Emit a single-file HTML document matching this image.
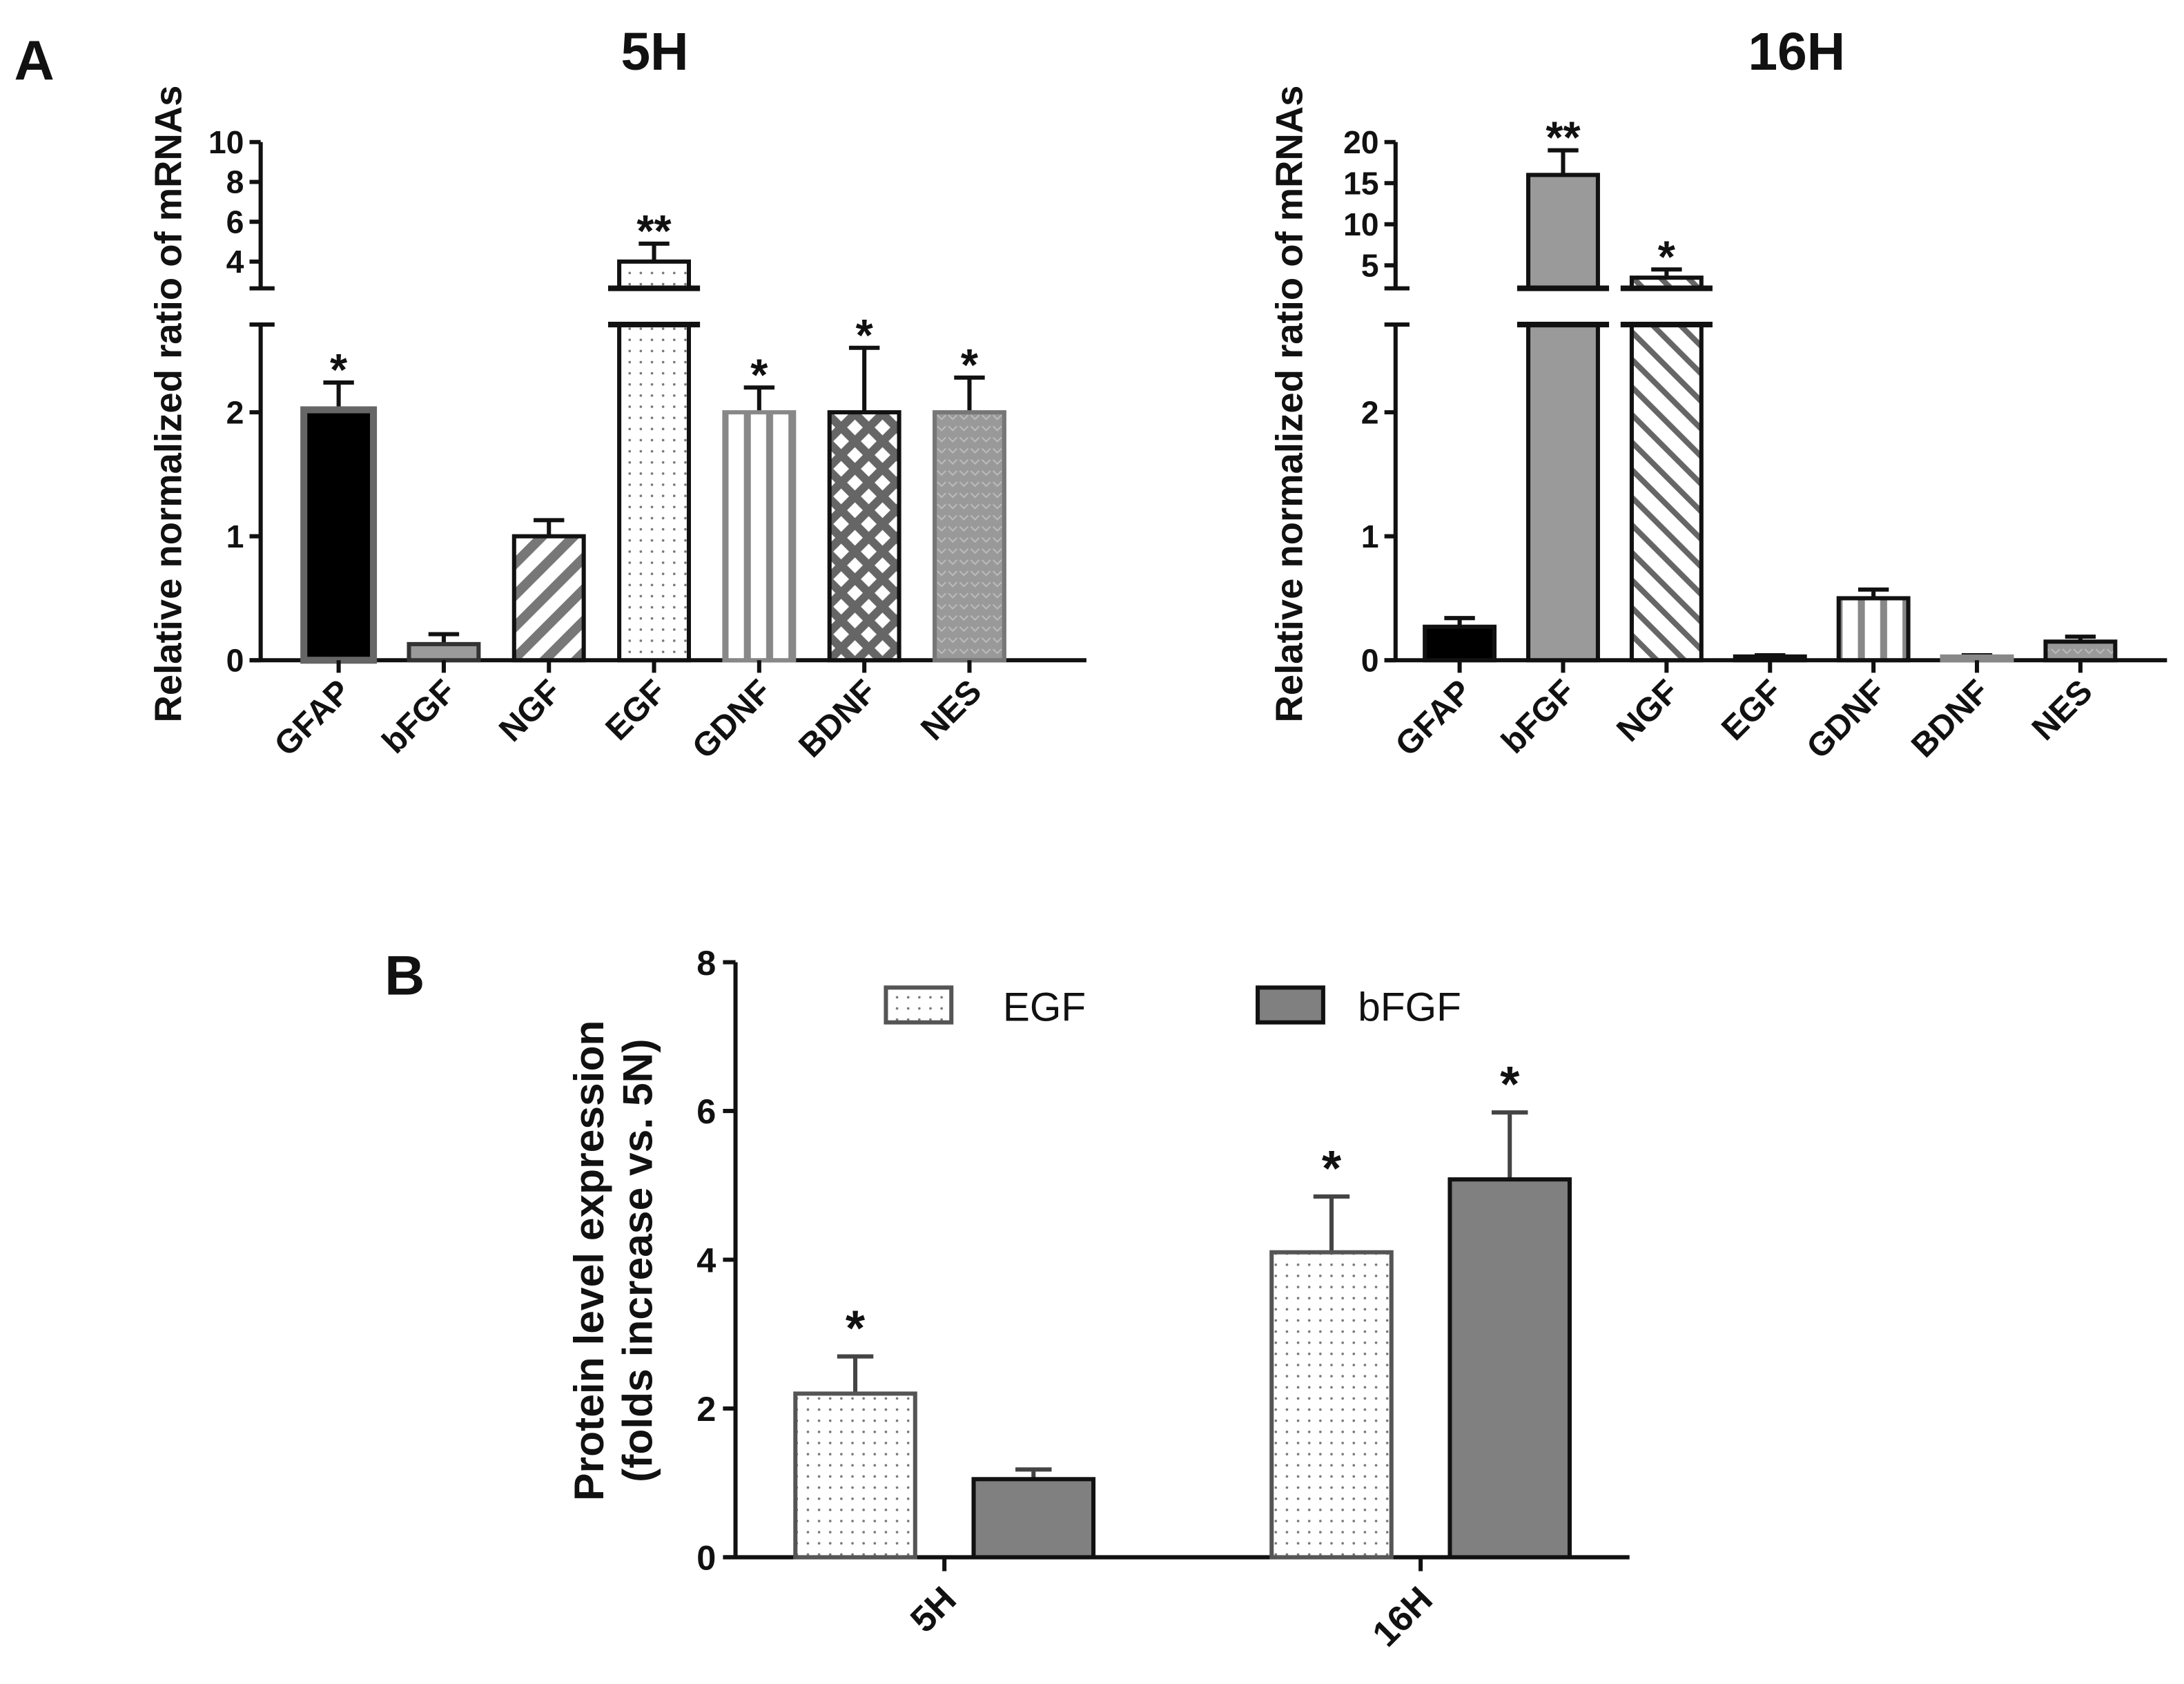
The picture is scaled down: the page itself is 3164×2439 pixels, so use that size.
<!DOCTYPE html>
<html><head><meta charset="utf-8"><style>html,body{margin:0;padding:0;background:#fff}svg{display:block}text{font-family:"Liberation Sans",Arial,sans-serif;font-weight:bold;fill:#111}</style></head>
<body>
<svg id="s" width="3164" height="2439" viewBox="0 0 1568 1209" xmlns="http://www.w3.org/2000/svg">
<defs>
<pattern id="pdots" width="8" height="8" patternUnits="userSpaceOnUse"><rect width="8" height="8" fill="#fff"/><circle cx="4" cy="4" r="0.9" fill="#777"/></pattern>
<pattern id="pdiag" width="16" height="16" patternUnits="userSpaceOnUse" patternTransform="rotate(45)"><rect width="16" height="16" fill="#fff"/><rect width="7" height="16" fill="#777"/></pattern>
<pattern id="pdiag2" width="14" height="14" patternUnits="userSpaceOnUse" patternTransform="rotate(-45)"><rect width="14" height="14" fill="#fff"/><rect width="4" height="14" fill="#666"/></pattern>
<pattern id="pvert" width="16" height="10" patternUnits="userSpaceOnUse"><rect width="16" height="10" fill="#fff"/><rect x="6" width="5" height="10" fill="#888"/></pattern>
<pattern id="pcross" width="14" height="14" patternUnits="userSpaceOnUse" patternTransform="rotate(45)"><rect width="14" height="14" fill="#666"/><rect x="3" y="3" width="8" height="8" fill="#fff"/></pattern>
<pattern id="pgrey" width="8" height="8" patternUnits="userSpaceOnUse"><rect width="8" height="8" fill="#999"/><path d="M1 2 L4 5 L7 2" stroke="#bbb" fill="none" stroke-width="1"/></pattern>
</defs>
<g id="root"></g>
</svg>
<script>
const catsA = ["GFAP","bFGF","NGF","EGF","GDNF","BDNF","NES"];
const vals5H = [2.02,0.13,1.0,4.0,2.0,2.0,2.0];
const errs5H = [0.22,0.08,0.13,0.9,0.2,0.52,0.28];
const sig5H = ["*","","","**","*","*","*"];
const vals16H = [0.27,16,3.5,0.03,0.5,0.03,0.15];
const errs16H = [0.07,3,1.0,0.01,0.07,0.01,0.04];
const sig16H = ["","**","*","","","",""];
const ticksLow = [0,1,2];
const ticks5Hup = [4,6,8,10];
const ticks16Hup = [5,10,15,20];
const catsB = ["5H","16H"];
const valsEGF = [2.2,4.1];
const errsEGF = [0.5,0.75];
const valsBFGF = [1.05,5.08];
const errsBFGF = [0.13,0.9];
const sigEGF = ["*","*"];
const sigBFGF = ["","*"];
const ticksB = [0,2,4,6,8];

const NS="http://www.w3.org/2000/svg";
const root=document.getElementById('root');
function mk(tag,attrs,parent,txt){const e=document.createElementNS(NS,tag);for(const k in attrs)e.setAttribute(k,attrs[k]);if(txt!==undefined)e.textContent=txt;(parent||root).appendChild(e);return e;}

const fillsA5=["#000","#9a9a9a","url(#pdiag)","url(#pdots)","url(#pvert)","url(#pcross)","url(#pgrey)"];
const strokeA5=["#666","#333","#111","#111","#888","#111","#777"];
const fillsA16=["#000","#9a9a9a","url(#pdiag2)","#222","url(#pvert)","#888","url(#pgrey)"];
const strokeA16=["#111","#111","#111","#111","#111","#888","#111"];

function splitChart(o){
  const g=mk('g',{});
  
  
  const y0=474, lowTop=233, upBot=207, upTop=102;
  const yLow=v=>y0-(v/2)*(y0-296);
  const lowMax=(y0-lowTop)/(y0-296)*2;
  const upY=v=>upTop+(o.upMaxV-v)*o.upScale;
  const ax=o.ax;
  const a=mk('line',{x1:ax,y1:y0,x2:ax,y2:lowTop,stroke:'#111','stroke-width':3},g);
  
  const b=mk('line',{x1:ax,y1:upBot,x2:ax,y2:upTop,stroke:'#111','stroke-width':3},g);
  
  mk('line',{x1:ax-8,y1:lowTop,x2:ax+10,y2:lowTop,stroke:'#111','stroke-width':3},g);
  mk('line',{x1:ax-8,y1:upBot,x2:ax+10,y2:upBot,stroke:'#111','stroke-width':3},g);
  const xa=mk('line',{x1:ax-8,y1:y0,x2:o.xEnd,y2:y0,stroke:'#111','stroke-width':3},g);
  
  ticksLow.forEach(t=>{const y=yLow(t);mk('line',{x1:ax-8,y1:y,x2:ax,y2:y,stroke:'#111','stroke-width':3},g);
    const tx=mk('text',{x:ax-12,y:y+8,'text-anchor':'end','font-size':23},g,String(t));});
  o.upTicks.forEach(t=>{const y=upY(t);mk('line',{x1:ax-8,y1:y,x2:ax,y2:y,stroke:'#111','stroke-width':3},g);
    const tx=mk('text',{x:ax-12,y:y+8,'text-anchor':'end','font-size':23},g,String(t));});
  const yt=mk('text',{x:0,y:0,'text-anchor':'middle','font-size':27,transform:`translate(${o.titleX},${290}) rotate(-90)`},g,'Relative normalized ratio of mRNAs');
  
  const tt=mk('text',{x:o.headX,y:50,'text-anchor':'middle','font-size':38},g,o.head);
  
  const step=o.step, w=50;
  o.cats.forEach((c,i)=>{
    const cx=o.x0+i*step, v=o.vals[i], e=o.errs[i];
    const bar=mk('g',{},g);
    
    const sw=(i==0&&o.head=='5H')?5:3;
    let sigY;
    if(v<=lowMax){
      const topY=yLow(v);
      const e1=yLow(v+e);
      mk('line',{x1:cx,y1:topY,x2:cx,y2:e1,stroke:'#111','stroke-width':3},bar);
      mk('line',{x1:cx-11,y1:e1,x2:cx+11,y2:e1,stroke:'#111','stroke-width':3},bar);
      mk('rect',{x:cx-w/2,y:topY,width:w,height:y0-topY,fill:o.fills[i],stroke:o.strokes[i],'stroke-width':sw},bar);
      sigY=e1-10;
    } else {
      mk('rect',{x:cx-w/2,y:lowTop,width:w,height:y0-lowTop,fill:o.fills[i],stroke:'#111','stroke-width':3},bar);
      const topY=upY(v);const e1=upY(v+e);
      mk('line',{x1:cx,y1:topY,x2:cx,y2:e1,stroke:'#111','stroke-width':3},bar);
      mk('line',{x1:cx-11,y1:e1,x2:cx+11,y2:e1,stroke:'#111','stroke-width':3},bar);
      mk('rect',{x:cx-w/2,y:topY,width:w,height:upBot-topY,fill:o.fills[i],stroke:'#111','stroke-width':3},bar);
      mk('line',{x1:cx-w/2-8,y1:upBot,x2:cx+w/2+8,y2:upBot,stroke:'#111','stroke-width':4},bar);
      mk('line',{x1:cx-w/2-8,y1:lowTop,x2:cx+w/2+8,y2:lowTop,stroke:'#111','stroke-width':4},bar);
      sigY=e1-10;
    }
    if(o.sig[i]){const s=mk('text',{x:cx,y:sigY+12,'text-anchor':'middle','font-size':32},g,o.sig[i]);}
    mk('line',{x1:cx,y1:y0,x2:cx,y2:y0+9,stroke:'#111','stroke-width':3},g);
    const l=mk('text',{x:0,y:0,'text-anchor':'end','font-size':24,transform:`translate(${cx+10},${y0+24}) rotate(-45)`},g,c);
    
  });
}
splitChart({name:'chart-5h',head:'5H',headX:470,ax:187,xEnd:780,x0:243,step:75.5,cats:catsA,vals:vals5H,errs:errs5H,sig:sig5H,upTicks:ticks5Hup,upMaxV:10,upScale:14.3,fills:fillsA5,strokes:strokeA5,titleX:130});
splitChart({name:'chart-16h',head:'16H',headX:1290,ax:1002,xEnd:1556,x0:1048,step:74.3,cats:catsA,vals:vals16H,errs:errs16H,sig:sig16H,upTicks:ticks16Hup,upMaxV:20,upScale:5.9,fills:fillsA16,strokes:strokeA16,titleX:935});
const la=mk('text',{x:10,y:57,'font-size':40},root,'A');
const lb=mk('text',{x:276,y:714,'font-size':40},root,'B');

(function(){
  const g=mk('g',{});
  const ax=528,y0=1118,s=53.4,yB=v=>y0-v*s;
  const a=mk('line',{x1:ax,y1:y0,x2:ax,y2:yB(8),stroke:'#111','stroke-width':3},g);
  const x=mk('line',{x1:ax-8,y1:y0,x2:1170,y2:y0,stroke:'#111','stroke-width':3},g);
  ticksB.forEach(t=>{const y=yB(t);mk('line',{x1:ax-9,y1:y,x2:ax,y2:y,stroke:'#111','stroke-width':3},g);
    const tx=mk('text',{x:ax-14,y:y+9,'text-anchor':'end','font-size':25},g,String(t));});
  const t1=mk('text',{x:0,y:0,'text-anchor':'middle','font-size':30,transform:'translate(433,905) rotate(-90)'},g,'Protein level expression');
  
  const t2=mk('text',{x:0,y:0,'text-anchor':'middle','font-size':30,transform:'translate(468,905) rotate(-90)'},g,'(folds increase vs. 5N)');
  
  const groupX=[678,1020], w=86;
  catsB.forEach((c,i)=>{
    const cx=groupX[i];
    [[valsEGF,errsEGF,sigEGF,'url(#pdots)','#555',-64,'egf'],[valsBFGF,errsBFGF,sigBFGF,'#808080','#111',64,'bfgf']].forEach(sr=>{
      const v=sr[0][i],e=sr[1][i],bx=cx+sr[5];
      const bar=mk('g',{},g);
      
      
      const e1=yB(v+e);
      mk('line',{x1:bx,y1:yB(v),x2:bx,y2:e1,stroke:'#444','stroke-width':3},bar);
      mk('line',{x1:bx-13,y1:e1,x2:bx+13,y2:e1,stroke:'#444','stroke-width':3},bar);
      mk('rect',{x:bx-w/2,y:yB(v),width:w,height:v*s,fill:sr[3],stroke:sr[4],'stroke-width':3},bar);
      if(sr[2][i]){const st=mk('text',{x:bx,y:e1-8,'text-anchor':'middle','font-size':36},g,sr[2][i]);}
    });
    mk('line',{x1:cx,y1:y0,x2:cx,y2:y0+10,stroke:'#111','stroke-width':3},g);
    const l=mk('text',{x:0,y:0,'text-anchor':'end','font-size':26,transform:`translate(${cx+10},${y0+32}) rotate(-45)`},g,c);
    
  });
  const le=mk('g',{},g);
  mk('rect',{x:636,y:709,width:47,height:25,fill:'url(#pdots)',stroke:'#555','stroke-width':3},le);
  mk('text',{x:720,y:733,'font-size':29,style:'font-weight:normal'},le,'EGF');
  const lf=mk('g',{},g);
  mk('rect',{x:903,y:709,width:47,height:25,fill:'#808080',stroke:'#111','stroke-width':3},lf);
  mk('text',{x:975,y:733,'font-size':29,style:'font-weight:normal'},lf,'bFGF');
})();
</script>
</body></html>
